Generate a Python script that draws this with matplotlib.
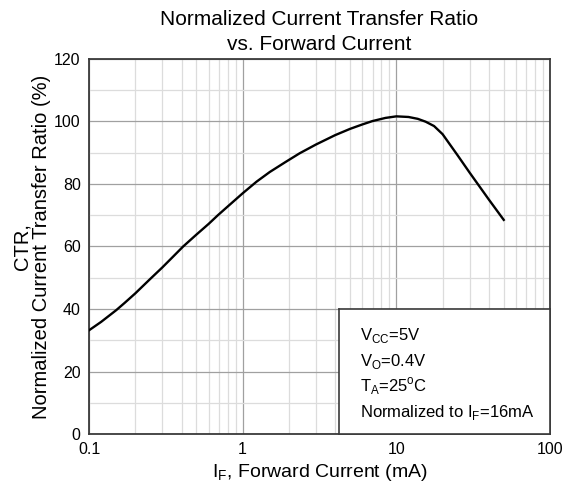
import numpy as np
import matplotlib
matplotlib.use('Agg')
import matplotlib.pyplot as plt
from matplotlib.ticker import FixedLocator, NullFormatter

plt.rcParams['font.family'] = ['Liberation Sans', 'DejaVu Sans']
plt.rcParams['mathtext.fontset'] = 'custom'
plt.rcParams['mathtext.rm'] = 'Liberation Sans'

# values
current_ma = [0.1, 0.12, 0.15, 0.17, 0.2, 0.25, 0.3, 0.35, 0.41, 0.5, 0.6, 0.69, 0.8, 1.0, 1.23, 1.5,
              1.9, 2.35, 3.0, 4.0, 5.0, 6.0, 7.0, 8.5, 10.0, 12.0, 13.8, 15.5, 17.6, 20.0, 25.0,
              30.0, 40.0, 50.0]
ctr_pct = [33.2, 35.9, 39.6, 41.9, 45.0, 49.6, 53.3, 56.6, 60.0, 63.8, 67.2, 70.0, 72.8, 77.0, 80.7, 83.8,
           87.0, 89.8, 92.6, 95.6, 97.6, 99.0, 100.1, 101.1, 101.6, 101.4, 100.8, 99.9, 98.5, 95.9, 89.2,
           83.6, 75.0, 68.5]

x_ticks = [0.1, 1, 10, 100]
x_labels = ['0.1', '1', '10', '100']
y_ticks = [0, 20, 40, 60, 80, 100, 120]

notes = [r'V$_{\mathregular{CC}}$=5V',
         r'V$_{\mathregular{O}}$=0.4V',
         r'T$_{\mathregular{A}}$=25$^{\mathregular{o}}$C',
         r'Normalized to I$_{\mathregular{F}}$=16mA']

fig = plt.figure(figsize=(5.67, 4.90), dpi=100)
ax = fig.add_axes([0.157, 0.114, 0.813, 0.766])

ax.plot(current_ma, ctr_pct, color='black', lw=1.7, zorder=3)

ax.set_xscale('log')
ax.set_xlim(0.1, 100)
ax.set_ylim(0, 120)
ax.set_xticks(x_ticks)
ax.set_xticklabels(x_labels)
ax.xaxis.set_minor_locator(FixedLocator([m * d for d in (0.1, 1, 10) for m in range(2, 10)]))
ax.xaxis.set_minor_formatter(NullFormatter())
ax.set_yticks(y_ticks)
ax.yaxis.set_minor_locator(FixedLocator(range(10, 120, 20)))

ax.grid(which='major', color='#a0a0a0', lw=0.9)
ax.grid(which='minor', color='#dcdcdc', lw=0.9)
ax.tick_params(which='both', length=0, labelsize=11.5)
ax.tick_params(axis='x', pad=6)
ax.tick_params(axis='y', pad=6)
for s in ax.spines.values():
    s.set_color('#3a3a3a')
    s.set_linewidth(1.3)

ax.set_xlabel(r'I$_{\mathregular{F}}$, Forward Current (mA)', fontsize=14, labelpad=3)
ax.set_ylabel('CTR,\nNormalized Current Transfer Ratio (%)', fontsize=14.5, labelpad=2,
              linespacing=1.05)
ax.set_title('Normalized Current Transfer Ratio\nvs. Forward Current', fontsize=15, pad=6, linespacing=1.45)

# conditions box in the lower right corner
box = ax.inset_axes([0.543, 0.0, 0.457, 0.333])
box.set_xticks([])
box.set_yticks([])
box.set_facecolor('white')
for s in box.spines.values():
    s.set_color('#3a3a3a')
    s.set_linewidth(1.2)
for i, t in enumerate(notes):
    box.text(0.1, 0.79 - i * 0.205, t, fontsize=12, va='center', ha='left', transform=box.transAxes)

fig.savefig('out.png', dpi=100, facecolor='white')
